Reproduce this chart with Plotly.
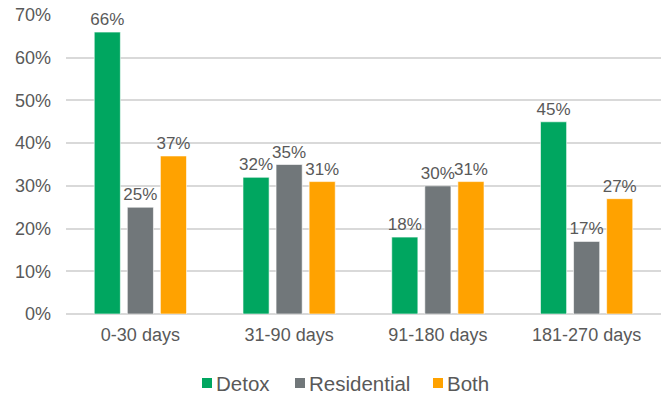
import plotly.graph_objects as go

categories = ["0-30 days", "31-90 days", "91-180 days", "181-270 days"]
detox = [66, 32, 18, 45]
residential = [25, 35, 30, 17]
both = [37, 31, 31, 27]
y_ticks = [0, 10, 20, 30, 40, 50, 60, 70]
y_tick_labels = [f"{v}%" for v in y_ticks]

series = [
    ("Detox", detox, "#00A660"),
    ("Residential", residential, "#71777A"),
    ("Both", both, "#FFA200"),
]

FONT = "Liberation Sans, Arial, sans-serif"
TEXT_COLOR = "#595959"

W, H = 668, 396
M_L, M_R, M_T, M_B = 66, 7, 15, 82
PLOT_W = W - M_L - M_R
PLOT_H = H - M_T - M_B


def px_x(px):
    return (px - M_L) / PLOT_W


def px_y(py):
    return (H - M_B - py) / PLOT_H


fig = go.Figure()
for name, values, color in series:
    fig.add_trace(go.Bar(
        name=name,
        x=categories,
        y=values,
        marker=dict(color=color, line=dict(color="rgba(255,255,255,0.6)", width=1)),
        text=[f"{v}%" for v in values],
        textposition="outside",
        constraintext="none",
        textfont=dict(family=FONT, size=17, color=TEXT_COLOR),
        outsidetextfont=dict(family=FONT, size=17, color=TEXT_COLOR),
        cliponaxis=False,
        showlegend=False,
    ))

# Compact legend: a colour swatch followed closely by the series name
legend_starts = [202, 295, 433]
legend_cy = 383
for (name, _, color), x0 in zip(series, legend_starts):
    fig.add_shape(
        type="rect", xref="paper", yref="paper",
        x0=px_x(x0), x1=px_x(x0 + 10),
        y0=px_y(legend_cy - 5), y1=px_y(legend_cy + 5),
        fillcolor=color, line=dict(width=0),
    )
    fig.add_annotation(
        text=name, xref="paper", yref="paper",
        x=px_x(x0 + 12), y=px_y(legend_cy),
        xanchor="left", yanchor="middle", showarrow=False,
        font=dict(family=FONT, size=20.5, color=TEXT_COLOR),
    )

fig.update_layout(
    width=W,
    height=H,
    margin=dict(l=M_L, r=M_R, t=M_T, b=M_B, autoexpand=False),
    paper_bgcolor="white",
    plot_bgcolor="white",
    barmode="group",
    bargap=0.333,
    bargroupgap=0.21,
    font=dict(family=FONT, color=TEXT_COLOR),
    showlegend=False,
    xaxis=dict(
        tickfont=dict(family=FONT, size=18, color=TEXT_COLOR),
        showgrid=False,
        showline=False,
        ticks="",
        ticklabelstandoff=8,
    ),
    yaxis=dict(
        range=[0, 70],
        tickvals=y_ticks,
        ticktext=y_tick_labels,
        tickfont=dict(family=FONT, size=18, color=TEXT_COLOR),
        showgrid=True,
        gridcolor="#D9D9D9",
        gridwidth=1.5,
        zeroline=True,
        zerolinecolor="#D9D9D9",
        zerolinewidth=1.5,
        showline=False,
        ticks="",
        ticklabelstandoff=14,
    ),
)

fig.write_html("out.html")
